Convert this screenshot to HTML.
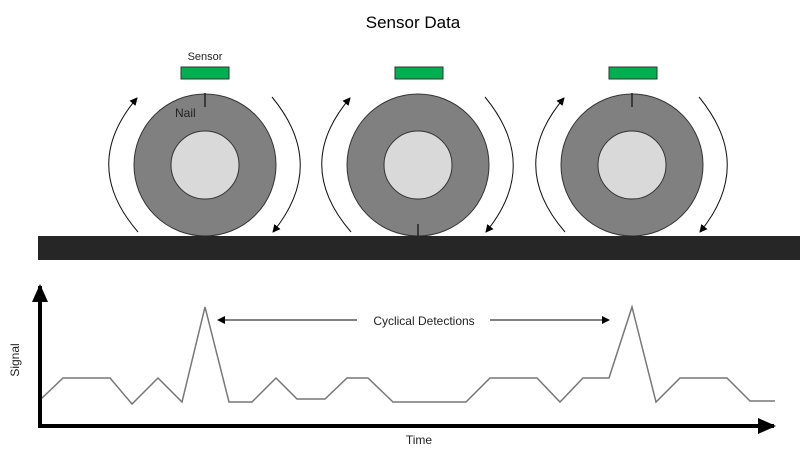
<!DOCTYPE html>
<html><head><style>body{margin:0;background:#fff}svg{display:block}</style></head><body>
<svg width="800" height="458" viewBox="0 0 800 458" xmlns="http://www.w3.org/2000/svg" font-family="Liberation Sans, sans-serif">
<defs>
<marker id="a" markerWidth="8" markerHeight="8" refX="7" refY="4" orient="auto" markerUnits="userSpaceOnUse"><path d="M0,0 L8,4 L0,8 z" fill="#000"/></marker>
<marker id="b" markerWidth="18" markerHeight="16" refX="16" refY="8" orient="auto" markerUnits="userSpaceOnUse"><path d="M0,0 L18,8 L0,16 z" fill="#000"/></marker>
</defs>
<text x="413" y="28" font-size="17" text-anchor="middle">Sensor Data</text>
<text x="205" y="60" font-size="11" text-anchor="middle" fill="#222">Sensor</text>
<rect x="0" y="0" width="0" height="0"/>
<g stroke="#333" stroke-width="1">
<rect x="181" y="67" width="48" height="12" fill="#00b050"/>
<rect x="395" y="67" width="48" height="12" fill="#00b050"/>
<rect x="609" y="67" width="48" height="12" fill="#00b050"/>
<circle cx="205" cy="165" r="71" fill="#808080"/><circle cx="205" cy="165" r="34" fill="#d9d9d9"/>
<circle cx="418" cy="165" r="71" fill="#808080"/><circle cx="418" cy="165" r="34" fill="#d9d9d9"/>
<circle cx="632" cy="165" r="71" fill="#808080"/><circle cx="632" cy="165" r="34" fill="#d9d9d9"/>
</g>
<g stroke="#222" stroke-width="1.5"><line x1="205" y1="93" x2="205" y2="107"/><line x1="418" y1="237" x2="418" y2="224"/><line x1="632" y1="93" x2="632" y2="107"/></g>
<text x="175" y="117" font-size="12" fill="#222">Nail</text>
<rect x="38" y="236" width="762" height="24" fill="#262626"/>
<g fill="none" stroke="#111" stroke-width="1">
<path d="M138,232 Q80,165 137,98" marker-end="url(#a)"/>
<path d="M272,97 Q328,165 273,232" marker-end="url(#a)"/>
<path d="M351,232 Q293,165 350,98" marker-end="url(#a)"/>
<path d="M485,97 Q541,165 486,232" marker-end="url(#a)"/>
<path d="M565,232 Q507,165 564,98" marker-end="url(#a)"/>
<path d="M699,97 Q755,165 700,232" marker-end="url(#a)"/>
</g>
<polyline fill="none" stroke="#777" stroke-width="1.5" points="40,400 63,378 110,378 132,404 158,378 182,402 205,307 229,402 252,402 276,378 297,399 325,399 347,378 368,378 393,402 466,402 490,378 537,378 560,402 583,378 609,378 632,307 656,402 680,378 727,378 750,401 775,401"/>
<line x1="40" y1="426" x2="40" y2="286" stroke="#000" stroke-width="4" marker-end="url(#b)"/>
<line x1="38" y1="426" x2="774" y2="426" stroke="#000" stroke-width="4" marker-end="url(#b)"/>
<text transform="translate(19,360) rotate(-90)" font-size="12" text-anchor="middle" fill="#222">Signal</text>
<text x="419" y="444" font-size="12" text-anchor="middle" fill="#222">Time</text>
<text x="424" y="325" font-size="12" text-anchor="middle" fill="#222">Cyclical Detections</text>
<line x1="357" y1="320" x2="218" y2="320" stroke="#000" stroke-width="1" marker-end="url(#a)"/>
<line x1="490" y1="320" x2="609" y2="320" stroke="#000" stroke-width="1" marker-end="url(#a)"/>
</svg>
</body></html>
